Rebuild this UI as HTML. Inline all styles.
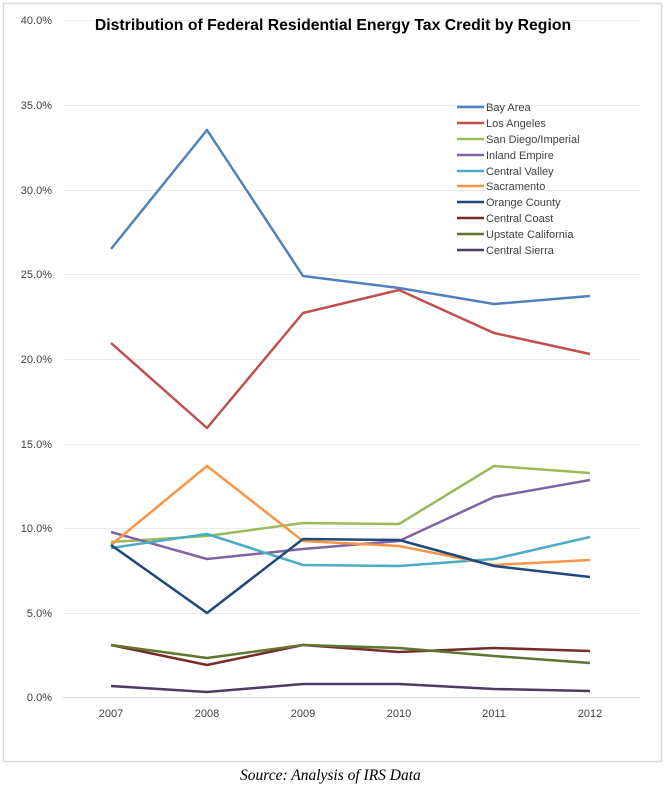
<!DOCTYPE html>
<html><head><meta charset="utf-8"><style>
body{margin:0;background:#fff;width:666px;height:790px;overflow:hidden}
</style></head><body>
<svg width="666" height="790" xmlns="http://www.w3.org/2000/svg" font-family="Liberation Sans, sans-serif">
<rect x="3.5" y="3.5" width="658" height="758" fill="#fff" stroke="#d9d9d9" stroke-width="1.5"/>
<g stroke="#ececec" stroke-width="1">
<line x1="63" x2="640" y1="20.5" y2="20.5"/><line x1="63" x2="640" y1="105.5" y2="105.5"/>
<line x1="63" x2="640" y1="190.5" y2="190.5"/><line x1="63" x2="640" y1="274.5" y2="274.5"/>
<line x1="63" x2="640" y1="359.5" y2="359.5"/><line x1="63" x2="640" y1="444.5" y2="444.5"/>
<line x1="63" x2="640" y1="528.5" y2="528.5"/><line x1="63" x2="640" y1="613.5" y2="613.5"/>
</g>
<line x1="63" x2="640" y1="697.5" y2="697.5" stroke="#d9d9d9"/>
<g font-size="11" fill="#404040" text-anchor="end">
<text x="52" y="24">40.0%</text><text x="52" y="109">35.0%</text><text x="52" y="194">30.0%</text>
<text x="52" y="278">25.0%</text><text x="52" y="363">20.0%</text><text x="52" y="448">15.0%</text>
<text x="52" y="532">10.0%</text><text x="52" y="617">5.0%</text><text x="52" y="701">0.0%</text>
</g>
<g font-size="11" fill="#404040" text-anchor="middle">
<text x="111" y="717">2007</text><text x="207" y="717">2008</text><text x="303" y="717">2009</text>
<text x="399" y="717">2010</text><text x="494" y="717">2011</text><text x="590" y="717">2012</text>
</g>
<text x="333" y="30" font-size="15.8" font-weight="bold" text-anchor="middle" fill="#000">Distribution of Federal Residential Energy Tax Credit by Region</text>
<g fill="none" stroke-width="2.5" stroke-linejoin="round">
<polyline stroke="#4f81bd" points="111,249 207,130 303,276 399,288 494,304 590,296"/>
<polyline stroke="#c0504d" points="111,343 207,428 303,313 399,290 494,333 590,354"/>
<polyline stroke="#9bbb59" points="111,542 207,536 303,523 399,524 494,466 590,473"/>
<polyline stroke="#8064a2" points="111,532 207,559 303,549 399,541 494,497 590,480"/>
<polyline stroke="#4bacc6" points="111,548 207,534 303,565 399,566 494,559 590,537"/>
<polyline stroke="#f79646" points="111,545 207,466 303,541 399,546 494,565 590,560"/>
<polyline stroke="#1f497d" points="111,545 207,613 303,539 399,540 494,566 590,577"/>
<polyline stroke="#772c2a" points="111,645 207,665 303,645 399,652 494,648 590,651"/>
<polyline stroke="#5f7530" points="111,645 207,658 303,645 399,648 494,656 590,663"/>
<polyline stroke="#4d3b62" points="111,686 207,692 303,684 399,684 494,689 590,691"/>
</g>
<g stroke-width="2.5">
<line x1="457" x2="484" y1="107" y2="107" stroke="#4f81bd"/>
<line x1="457" x2="484" y1="123" y2="123" stroke="#c0504d"/>
<line x1="457" x2="484" y1="139" y2="139" stroke="#9bbb59"/>
<line x1="457" x2="484" y1="155" y2="155" stroke="#8064a2"/>
<line x1="457" x2="484" y1="171" y2="171" stroke="#4bacc6"/>
<line x1="457" x2="484" y1="186" y2="186" stroke="#f79646"/>
<line x1="457" x2="484" y1="202" y2="202" stroke="#1f497d"/>
<line x1="457" x2="484" y1="218" y2="218" stroke="#772c2a"/>
<line x1="457" x2="484" y1="234" y2="234" stroke="#5f7530"/>
<line x1="457" x2="484" y1="250" y2="250" stroke="#4d3b62"/>
</g>
<g font-size="11" fill="#404040">
<text x="486" y="111">Bay Area</text><text x="486" y="127">Los Angeles</text>
<text x="486" y="143">San Diego/Imperial</text><text x="486" y="159">Inland Empire</text>
<text x="486" y="175">Central Valley</text><text x="486" y="190">Sacramento</text>
<text x="486" y="206">Orange County</text><text x="486" y="222">Central Coast</text>
<text x="486" y="238">Upstate California</text><text x="486" y="254">Central Sierra</text>
</g>
<text x="240" y="780" font-family="Liberation Serif, serif" font-style="italic" font-size="15.5" fill="#000">Source:  Analysis of IRS Data</text>
</svg>
</body></html>
